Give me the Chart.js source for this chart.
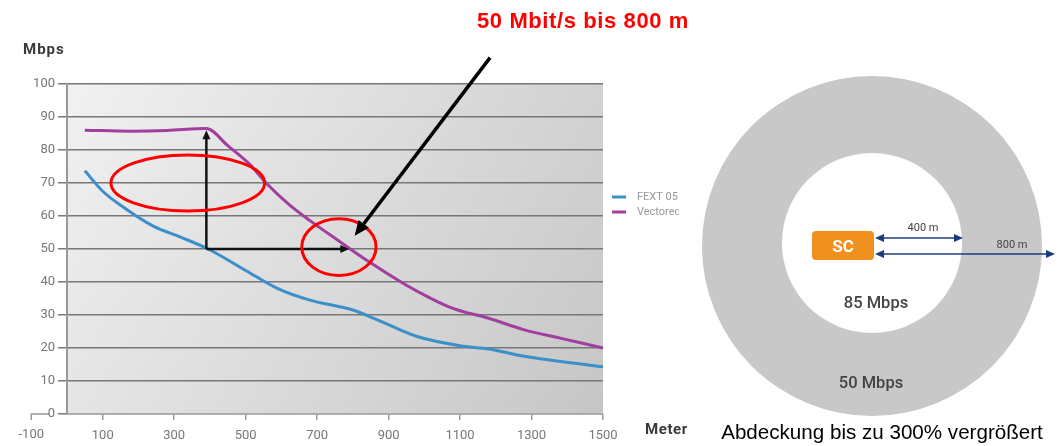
<!DOCTYPE html>
<html><head><meta charset="utf-8">
<script src="https://cdn.jsdelivr.net/npm/chart.js@4.4.1/dist/chart.umd.min.js"></script>
<style>
html,body{margin:0;padding:0;background:#fff;width:1057px;height:446px;overflow:hidden}
#wrap{position:relative;width:1057px;height:446px}
#c{position:absolute;left:0;top:0}
#title{position:absolute;left:477px;top:10px;font:bold 22px "Liberation Sans",Arial,sans-serif;line-height:22px;letter-spacing:0.6px;color:#ff0000;white-space:nowrap}
svg{position:absolute;left:0;top:0}
</style></head><body>
<div id="wrap">
<canvas id="c" width="1057" height="446"></canvas>
<div id="title">50 Mbit/s bis 800 m</div>
<svg width="1057" height="446" viewBox="0 0 1057 446" font-family="Roboto, 'Noto Sans', sans-serif">
  <circle cx="872" cy="246" r="170" fill="#c8c8c8"/>
  <circle cx="872" cy="243" r="90" fill="#ffffff"/>
  <rect x="812" y="231" width="62" height="29" rx="4" fill="#f0901e"/>
  <text x="843" y="252" text-anchor="middle" font-size="17" font-weight="bold" fill="#ffffff">SC</text>
  <line x1="880" y1="238" x2="958" y2="238" stroke="#1b3c7c" stroke-width="1.5"/>
  <polygon points="875,238 884,234 884,242" fill="#1b3c7c"/>
  <polygon points="963,238 954,234 954,242" fill="#1b3c7c"/>
  <line x1="880" y1="254" x2="1050" y2="254" stroke="#1b3c7c" stroke-width="1.5"/>
  <polygon points="875,254 884,250 884,258" fill="#1b3c7c"/>
  <polygon points="1055,254 1046,250 1046,258" fill="#1b3c7c"/>
  <text x="923" y="231" text-anchor="middle" font-size="11" fill="#444">400 m</text>
  <text x="1012" y="248" text-anchor="middle" font-size="11" fill="#444">800 m</text>
  <text x="876" y="308" text-anchor="middle" font-size="16.5" font-weight="500" fill="#444">85 Mbps</text>
  <text x="871" y="388" text-anchor="middle" font-size="16.5" font-weight="500" fill="#444">50 Mbps</text>
  <text x="882" y="439" text-anchor="middle" font-size="20.6" font-family="'Liberation Sans', Arial, sans-serif" fill="#000">Abdeckung bis zu 300% vergrößert</text>
</svg>
</div>
<script>
// ---- data ----
const fextDistance = [50, 100, 160, 240, 320, 395, 500, 590, 680, 800, 880, 980, 1100, 1180, 1280, 1500];
const fextMbps     = [73.7, 67.5, 62.5, 57, 53.5, 50, 43.5, 38, 34.5, 31.5, 28, 23.5, 20.7, 19.7, 17.5, 14.3];
const vectoredDistance = [50, 180, 280, 390, 450, 510, 560, 620, 680, 760, 840, 950, 1010, 1080, 1180, 1280, 1380, 1500];
const vectoredMbps     = [86, 85.7, 85.9, 86.5, 81.3, 75.8, 69.7, 63.6, 58.6, 52.5, 46.5, 39, 35.5, 32, 29, 25.5, 23, 20];
const seriesLabels = ['FEXT 05', 'Vectored'];
const xTickValues = [-100, 100, 300, 500, 700, 900, 1100, 1300, 1500];
const yTickStep = 10;
const yMin = 0, yMax = 100, xMin = 0, xMax = 1500;

const tickFont = 'Roboto, "Noto Sans", sans-serif';
const pts = (xs, ys) => xs.map((x, i) => ({x, y: ys[i]}));

const bgPlugin = {
  id: 'bg',
  beforeDraw(chart) {
    const {ctx, chartArea: a, scales} = chart;
    ctx.save();
    const g = ctx.createLinearGradient(a.left, a.top, a.right, a.bottom);
    g.addColorStop(0, '#f1f1f1');
    g.addColorStop(1, '#c6c6c6');
    ctx.fillStyle = g;
    ctx.fillRect(a.left, a.top, a.right - a.left, a.bottom - a.top);
    const xl = scales.x.getPixelForValue(xTickValues[0]);
    ctx.strokeStyle = '#999';
    ctx.lineWidth = 1.5;
    ctx.beginPath();
    ctx.moveTo(xl, a.bottom + 6); ctx.lineTo(xl, a.bottom);
    ctx.lineTo(a.left - 18, a.bottom);
    ctx.stroke();
    ctx.restore();
  }
};

function arrowHead(ctx, x1, y1, x2, y2, len, wid) {
  const ang = Math.atan2(y2 - y1, x2 - x1);
  ctx.beginPath();
  ctx.moveTo(x2, y2);
  ctx.lineTo(x2 - len * Math.cos(ang) + wid / 2 * Math.sin(ang), y2 - len * Math.sin(ang) - wid / 2 * Math.cos(ang));
  ctx.lineTo(x2 - len * Math.cos(ang) - wid / 2 * Math.sin(ang), y2 - len * Math.sin(ang) + wid / 2 * Math.cos(ang));
  ctx.closePath();
  ctx.fill();
}

const annotPlugin = {
  id: 'annot',
  afterDraw(chart) {
    const {ctx, chartArea: a, scales: {x, y}} = chart;
    ctx.save();
    ctx.fillStyle = '#777';
    ctx.font = '13px ' + tickFont;
    ctx.textAlign = 'center'; ctx.textBaseline = 'middle';
    ctx.fillText(String(xTickValues[0]), x.getPixelForValue(xTickValues[0]), 435);
    // axis titles
    ctx.fillStyle = '#3a3a3a';
    ctx.font = 'bold 15px ' + tickFont;
    ctx.textAlign = 'left';
    ctx.letterSpacing = '1px';
    ctx.fillText('Mbps', 23, 50);
    ctx.letterSpacing = '0.6px';
    ctx.fillText('Meter', 645, 430);
    ctx.letterSpacing = '0px';
    // legend (cut at the picture edge)
    ctx.save();
    ctx.beginPath(); ctx.rect(0, 0, 679, 446); ctx.clip();
    chart.data.datasets.forEach((ds, i) => {
      const ly = 197 + i * 15;
      ctx.strokeStyle = ds.borderColor; ctx.lineWidth = 3;
      ctx.beginPath(); ctx.moveTo(a.right + 9, ly); ctx.lineTo(a.right + 23, ly); ctx.stroke();
      ctx.fillStyle = '#999';
      ctx.font = '11px ' + tickFont;
      ctx.textAlign = 'left'; ctx.textBaseline = 'middle';
      ctx.fillText(ds.label, a.right + 34, ly);
    });
    ctx.restore();
    // black helper arrows
    ctx.strokeStyle = '#111'; ctx.fillStyle = '#111'; ctx.lineWidth = 2.5;
    const x0 = x.getPixelForValue(390), y50 = y.getPixelForValue(50);
    const yTop = y.getPixelForValue(86), xEnd = x.getPixelForValue(790);
    ctx.beginPath(); ctx.moveTo(x0, y50); ctx.lineTo(x0, yTop + 8); ctx.stroke();
    arrowHead(ctx, x0, y50, x0, yTop, 9, 8);
    ctx.beginPath(); ctx.moveTo(x0, y50); ctx.lineTo(xEnd - 8, y50); ctx.stroke();
    arrowHead(ctx, x0, y50, xEnd, y50, 9, 8);
    // red ellipses
    ctx.strokeStyle = '#ff0000'; ctx.lineWidth = 3;
    const ell = (cx, cy, rx, ry) => {
      const px = x.getPixelForValue(cx), py = y.getPixelForValue(cy);
      const prx = x.getPixelForValue(cx + rx) - px, pry = py - y.getPixelForValue(cy + ry);
      ctx.beginPath(); ctx.ellipse(px, py, prx, pry, 0, 0, Math.PI * 2); ctx.stroke();
    };
    ell(338, 70, 215, 8.5);
    ell(761, 50.6, 104, 8.6);
    // big pointer arrow from the title
    ctx.strokeStyle = '#000'; ctx.fillStyle = '#000'; ctx.lineWidth = 3.5;
    const sx = x.getPixelForValue(1184), sy = y.getPixelForValue(108);
    const tx = x.getPixelForValue(805), ty = y.getPixelForValue(54);
    const ang = Math.atan2(ty - sy, tx - sx);
    ctx.beginPath(); ctx.moveTo(sx, sy); ctx.lineTo(tx - 12 * Math.cos(ang), ty - 12 * Math.sin(ang)); ctx.stroke();
    arrowHead(ctx, sx, sy, tx, ty, 15, 13);
    ctx.restore();
  }
};

new Chart(document.getElementById('c'), {
  type: 'line',
  data: {
    datasets: [
      {label: seriesLabels[0], data: pts(fextDistance, fextMbps), borderColor: '#3b8fcb', borderWidth: 3,
       pointRadius: 0, cubicInterpolationMode: 'monotone', fill: false},
      {label: seriesLabels[1], data: pts(vectoredDistance, vectoredMbps), borderColor: '#a23e9e', borderWidth: 3,
       pointRadius: 0, cubicInterpolationMode: 'monotone', fill: false}
    ]
  },
  options: {
    responsive: false,
    animation: false,
    devicePixelRatio: 1,
    layout: {padding: {left: 0, right: 454, top: 84, bottom: 0}},
    plugins: {legend: {display: false}, tooltip: {enabled: false}},
    scales: {
      x: {
        type: 'linear', min: xMin, max: xMax,
        afterBuildTicks: s => { s.ticks = xTickValues.filter(v => v >= xMin).map(v => ({value: v})); },
        afterFit: s => { s.height = 32; },
        grid: {drawOnChartArea: false, drawTicks: true, tickLength: 6, color: '#999', lineWidth: 1.5},
        border: {color: '#aaa', width: 1.5},
        ticks: {color: '#777', font: {family: tickFont, size: 13}, padding: 8, maxRotation: 0, autoSkip: false,
                callback: v => String(v)}
      },
      y: {
        min: yMin, max: yMax,
        afterFit: s => { s.width = 67; },
        grid: {color: '#777', lineWidth: 1.5, tickLength: 9},
        border: {color: '#999', width: 2},
        ticks: {stepSize: yTickStep, color: '#777', font: {family: tickFont, size: 13}, padding: 3}
      }
    }
  },
  plugins: [bgPlugin, annotPlugin]
});
</script>
</body></html>
